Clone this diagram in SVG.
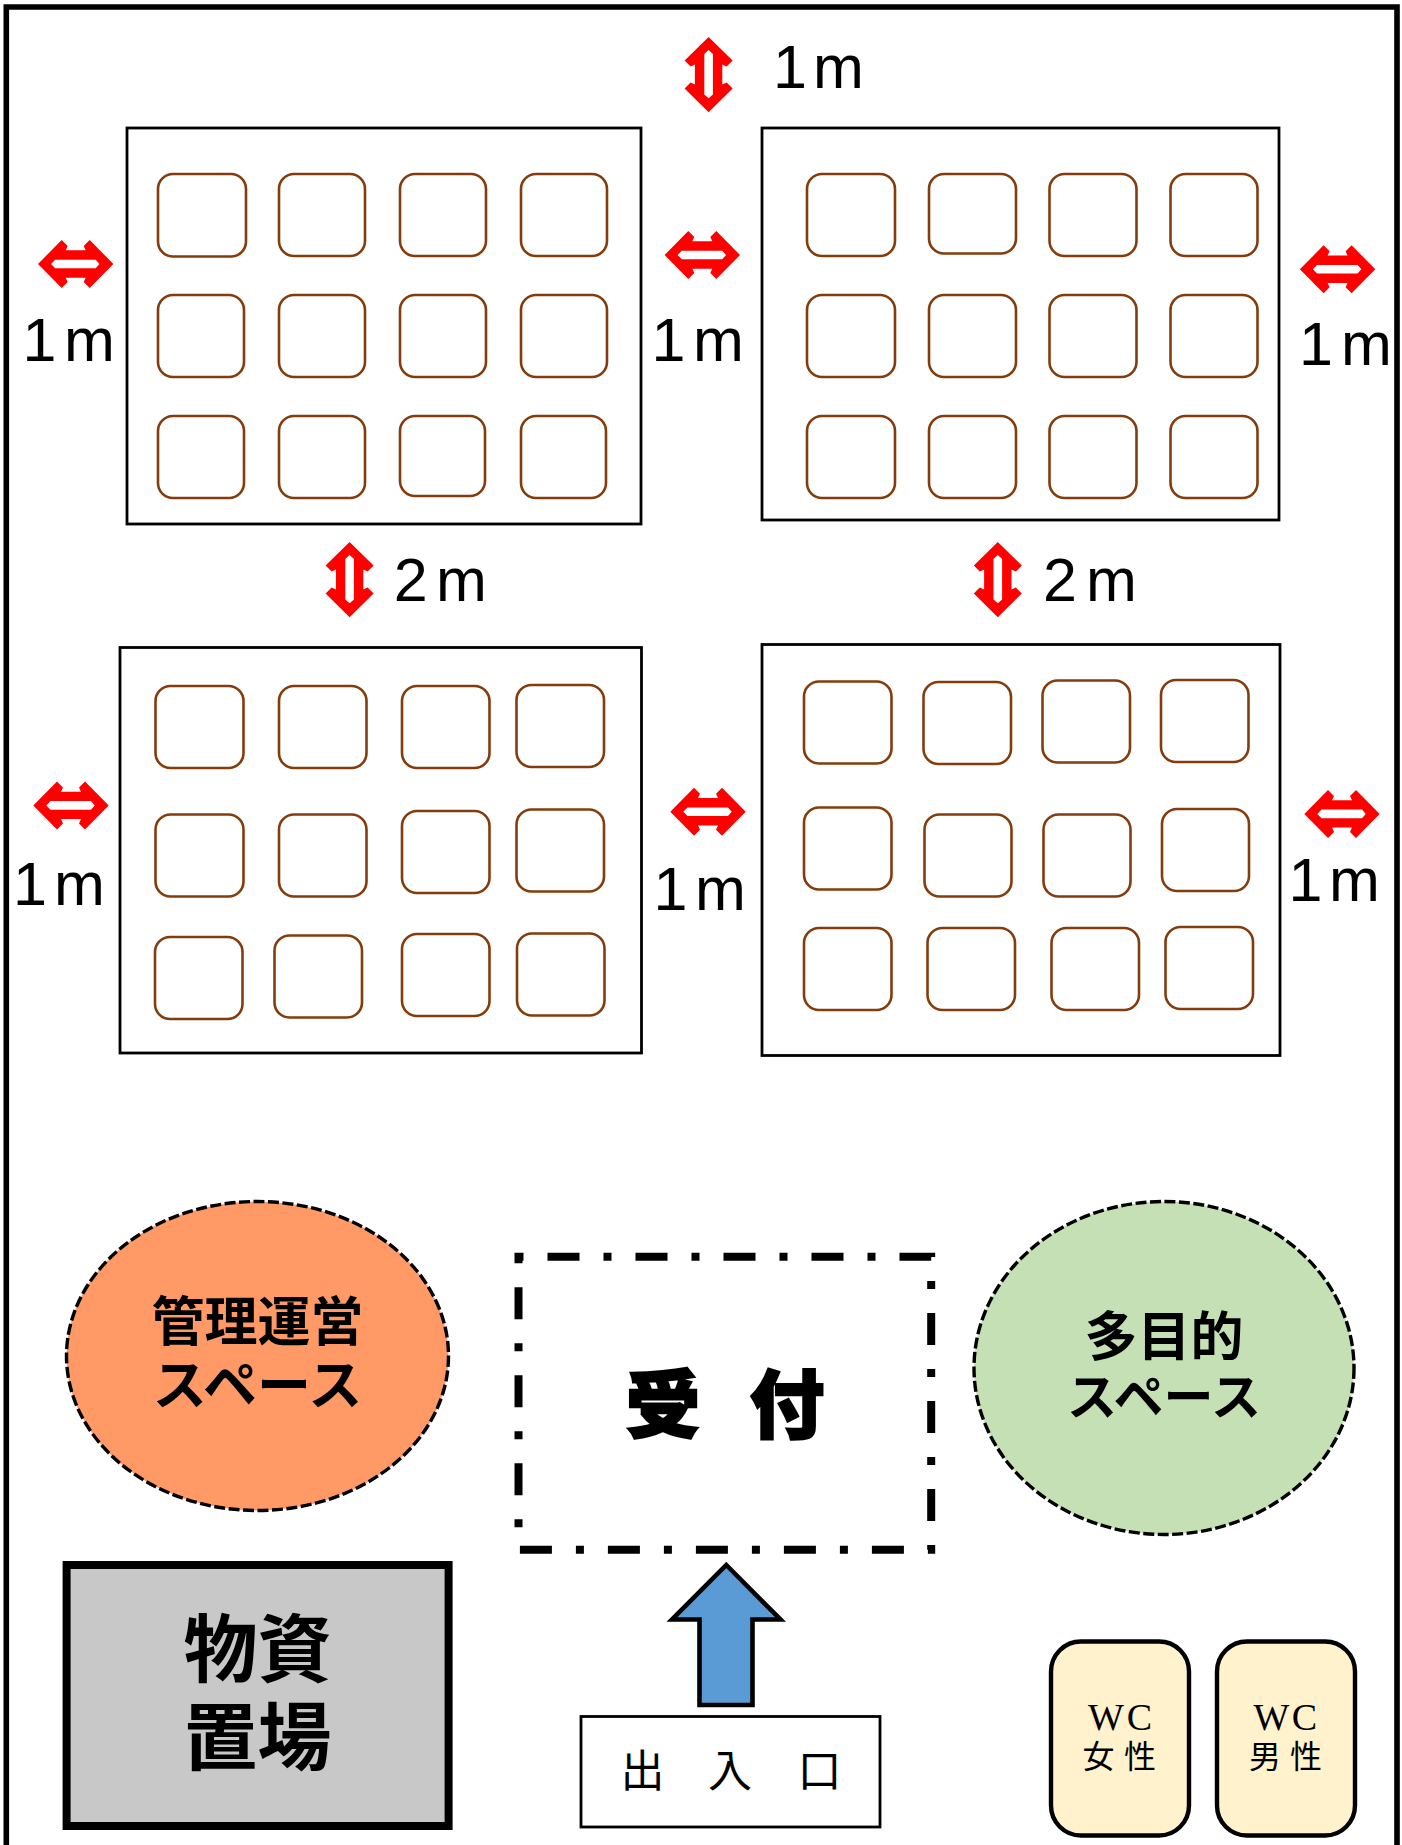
<svg xmlns="http://www.w3.org/2000/svg" xmlns:xlink="http://www.w3.org/1999/xlink" width="1402" height="1845" viewBox="0 0 1402 1845">
<style>
.block{fill:#fff;stroke:#000;stroke-width:2.8}
.seat{fill:#fff;stroke:#843C0C;stroke-width:2.6}
.dim{font-family:"Liberation Sans",Arial,sans-serif;font-size:61px;fill:#000}
.jp{font-family:"Noto Sans CJK JP",sans-serif;fill:#000;text-anchor:middle}
.b{font-weight:700}
.sp{fill-rule:evenodd}
.dashed{stroke:#000;stroke-width:3.4;stroke-dasharray:11 3.5}
.wc{fill:#FFF2CC;stroke:#000;stroke-width:4.4}
.wct{font-family:"Liberation Serif",serif;font-size:38px;fill:#000;text-anchor:middle}
</style>
<defs>
<path id="dbl" class="sp" fill="#FF0000" d="M-37.7 0L-14 -24L-8 -18L-10 -13.7L10 -13.7L8 -18L14 -24L37.7 0L14 24L8 18L10 13.7L-10 13.7L-8 18L-14 24ZM-24.7 0L-20.5 4.3L20 4.3L23.7 0L20 -4.3L-20.5 -4.3Z"/>
</defs>
<rect width="1402" height="1845" fill="#fff"/>
<path id="frame" d="M6.3 1850V7H1397V1850" fill="none" stroke="#000" stroke-width="5.6"/>

<g id="block-1">
<rect class="block" x="127" y="128" width="514" height="396"/>
<g>
<rect class="seat" x="158" y="174" width="88" height="82.5" rx="15"/>
<rect class="seat" x="279" y="174" width="86" height="82" rx="15"/>
<rect class="seat" x="400" y="174" width="86" height="82" rx="15"/>
<rect class="seat" x="521" y="174" width="86" height="82" rx="15"/>
<rect class="seat" x="158" y="295" width="86" height="82" rx="15"/>
<rect class="seat" x="279" y="295" width="86" height="82" rx="15"/>
<rect class="seat" x="400" y="295" width="86" height="82" rx="15"/>
<rect class="seat" x="521" y="295" width="86" height="82" rx="15"/>
<rect class="seat" x="158" y="416" width="86" height="82" rx="15"/>
<rect class="seat" x="279" y="416" width="86" height="82" rx="15"/>
<rect class="seat" x="400" y="416" width="85" height="80" rx="15"/>
<rect class="seat" x="521" y="416" width="85" height="82" rx="15"/>
</g>
</g>

<g id="block-2">
<rect class="block" x="762" y="128" width="517" height="392"/>
<g>
<rect class="seat" x="807" y="174" width="88" height="82" rx="15"/>
<rect class="seat" x="929" y="174" width="87" height="79.5" rx="15"/>
<rect class="seat" x="1049.5" y="174" width="87" height="82" rx="15"/>
<rect class="seat" x="1170.5" y="174" width="87" height="82" rx="15"/>
<rect class="seat" x="807" y="295" width="88" height="82" rx="15"/>
<rect class="seat" x="929" y="295" width="87" height="82" rx="15"/>
<rect class="seat" x="1049.5" y="295" width="87" height="82" rx="15"/>
<rect class="seat" x="1170.5" y="295" width="87" height="82" rx="15"/>
<rect class="seat" x="807" y="416" width="88" height="82" rx="15"/>
<rect class="seat" x="929" y="416" width="87" height="82" rx="15"/>
<rect class="seat" x="1049.5" y="416" width="87" height="82" rx="15"/>
<rect class="seat" x="1170.5" y="416" width="87" height="82" rx="15"/>
</g>
</g>

<g id="block-3">
<rect class="block" x="120" y="647.5" width="521.5" height="405.5"/>
<g>
<rect class="seat" x="155.5" y="686" width="88" height="82" rx="15"/>
<rect class="seat" x="279" y="686" width="87.5" height="82" rx="15"/>
<rect class="seat" x="402" y="686" width="87.5" height="82" rx="15"/>
<rect class="seat" x="516.5" y="685" width="87.5" height="82" rx="15"/>
<rect class="seat" x="155.5" y="814.5" width="88" height="82" rx="15"/>
<rect class="seat" x="279" y="814.5" width="87.5" height="82" rx="15"/>
<rect class="seat" x="402" y="811" width="87.5" height="82" rx="15"/>
<rect class="seat" x="516.5" y="809.5" width="87.5" height="82" rx="15"/>
<rect class="seat" x="155" y="937" width="87.5" height="82" rx="15"/>
<rect class="seat" x="274.5" y="935.5" width="87.5" height="82" rx="15"/>
<rect class="seat" x="402" y="934" width="87.5" height="82" rx="15"/>
<rect class="seat" x="517" y="933.5" width="87.5" height="82" rx="15"/>
</g>
</g>

<g id="block-4">
<rect class="block" x="762" y="644.5" width="518" height="411"/>
<g>
<rect class="seat" x="804" y="681.5" width="87.5" height="82" rx="15"/>
<rect class="seat" x="923.5" y="682" width="87.5" height="82" rx="15"/>
<rect class="seat" x="1042.5" y="680.5" width="87.5" height="82" rx="15"/>
<rect class="seat" x="1161" y="680" width="87.5" height="82" rx="15"/>
<rect class="seat" x="804" y="807.5" width="87.5" height="82" rx="15"/>
<rect class="seat" x="924.5" y="814.5" width="87" height="82" rx="15"/>
<rect class="seat" x="1043.5" y="814.5" width="87" height="82" rx="15"/>
<rect class="seat" x="1162" y="809" width="87" height="82" rx="15"/>
<rect class="seat" x="804" y="928" width="87.5" height="82" rx="15"/>
<rect class="seat" x="927.5" y="928" width="87.5" height="82" rx="15"/>
<rect class="seat" x="1051.5" y="928" width="87.5" height="82" rx="15"/>
<rect class="seat" x="1165.5" y="927" width="87.5" height="82" rx="15"/>
</g>
</g>

<g id="connectors">
<use href="#dbl" xlink:href="#dbl" transform="translate(708.6 74.6) rotate(90)"/>
<use href="#dbl" xlink:href="#dbl" transform="translate(75.7 264)"/>
<use href="#dbl" xlink:href="#dbl" transform="translate(702.3 255)"/>
<use href="#dbl" xlink:href="#dbl" transform="translate(1337.6 269.3)"/>
<use href="#dbl" xlink:href="#dbl" transform="translate(349.6 579.6) rotate(90)"/>
<use href="#dbl" xlink:href="#dbl" transform="translate(997.8 579.6) rotate(90)"/>
<use href="#dbl" xlink:href="#dbl" transform="translate(71 805.4)"/>
<use href="#dbl" xlink:href="#dbl" transform="translate(708 811.8)"/>
<use href="#dbl" xlink:href="#dbl" transform="translate(1342 813.9)"/>
<path id="entry-arrow" d="M726.3 1565L780.5 1619.5H752.5V1705H699.5V1619.5H672Z" fill="#5B9BD5" stroke="#000" stroke-width="4.6"/>
</g>

<g id="dimensions">
<text class="dim" x="773 813" y="87.5">1m</text>
<text class="dim" x="22.5 64" y="360.7">1m</text>
<text class="dim" x="651.5 693" y="360.7">1m</text>
<text class="dim" x="1299 1341" y="365">1m</text>
<text class="dim" x="393.7 436" y="601.4">2m</text>
<text class="dim" x="1043 1086" y="601.4">2m</text>
<text class="dim" x="13 54" y="905">1m</text>
<text class="dim" x="653.5 695" y="910.4">1m</text>
<text class="dim" x="1288.5 1329" y="901.4">1m</text>
</g>

<g id="management">
<ellipse class="dashed" cx="257.5" cy="1356" rx="191" ry="154.5" fill="#FF9966"/>
<text class="jp b" x="257.5" y="1341" font-size="53">管理運営</text>
<text class="jp b" x="257.5" y="1405" font-size="54">スペース</text>
</g>

<g id="reception">
<rect x="518.5" y="1256.8" width="412.7" height="293" fill="none" stroke="#000" stroke-width="8" stroke-dasharray="32 24 8 24" stroke-dashoffset="59"/>
<text class="jp" x="663 787" y="1432" font-size="74" font-weight="900" stroke="#000" stroke-width="2.5">受付</text>
</g>

<g id="multipurpose">
<ellipse class="dashed" cx="1164" cy="1368" rx="190" ry="166.5" fill="#C5E0B4"/>
<text class="jp b" x="1164" y="1356" font-size="53">多目的</text>
<text class="jp b" x="1164" y="1415" font-size="50">スペース</text>
</g>

<g id="storage">
<rect x="66.6" y="1565" width="382" height="261" fill="#C8C8C8" stroke="#000" stroke-width="8"/>
<text class="jp b" x="257.5" y="1676" font-size="74">物資</text>
<text class="jp b" x="257.5" y="1764" font-size="74">置場</text>
</g>

<g id="entrance">
<rect x="581" y="1716.5" width="299" height="110.5" fill="#fff" stroke="#000" stroke-width="2.8"/>
<text class="jp" x="642.4 730 819.5" y="1787" font-size="44" font-weight="400">出入口</text>
</g>

<g id="wc-female">
<rect class="wc" x="1051" y="1641.5" width="138" height="194" rx="30"/>
<text class="wct" x="1106 1139.5" y="1730">WC</text>
<text class="jp" x="1098.4 1140" y="1768" font-size="32" font-weight="400">女性</text>
</g>

<g id="wc-male">
<rect class="wc" x="1217" y="1641.5" width="138" height="194" rx="30"/>
<text class="wct" x="1271.5 1304.5" y="1730">WC</text>
<text class="jp" x="1265 1306" y="1768" font-size="32" font-weight="400">男性</text>
</g>
</svg>
